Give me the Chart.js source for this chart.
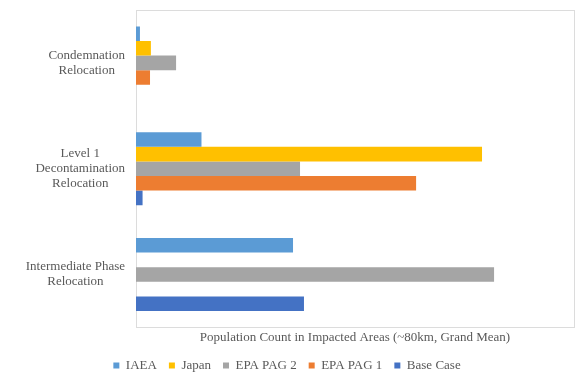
<!DOCTYPE html>
<html>
<head>
<meta charset="utf-8">
<script src="https://cdn.jsdelivr.net/npm/chart.js@4.4.1/dist/chart.umd.min.js"></script>
<style>
  html, body { margin: 0; padding: 0; background: #fff; }
  #wrap { width: 577px; height: 374px; position: relative; }
</style>
</head>
<body>
<div id="wrap"><canvas id="relocationChart"></canvas></div>
<script>
// ---- data ----
const categories = [
  ["Condemnation", "Relocation"],
  ["Level 1", "Decontamination", "Relocation"],
  ["Intermediate Phase", "Relocation"]
];

const seriesNames = ["IAEA", "Japan", "EPA PAG 2", "EPA PAG 1", "Base Case"];
const seriesColors = ["#5B9BD5", "#FFC000", "#A5A5A5", "#ED7D31", "#4472C4"];

// population counts per category (Condemnation, Level 1, Intermediate)
const iaea = [18000, 299000, 717000];
const japan = [68000, 1580000, 0];
const epaPag2 = [183000, 749000, 1635000];
const epaPag1 = [64000, 1279000, 0];
const baseCase = [0, 30000, 767000];

const xMax = 2000000;
const axisTitle = "Population Count in Impacted Areas (~80km, Grand Mean)";

const textColor = "#595959";
const serif = "'Liberation Serif', 'Times New Roman', serif";

// ---- plugins ----
// light frame around the plot area
const plotFrame = {
  id: "plotFrame",
  beforeDraw(chart) {
    const { ctx, chartArea } = chart;
    ctx.save();
    ctx.strokeStyle = "#DCDCDC";
    ctx.lineWidth = 1;
    ctx.strokeRect(
      Math.round(chartArea.left) + 0.5,
      Math.round(chartArea.top) + 0.5,
      Math.round(chartArea.width),
      Math.round(chartArea.height)
    );
    ctx.restore();
  }
};

// multi-line category labels, each block centred and pushed against the axis
const categoryLabels = {
  id: "categoryLabels",
  afterDraw(chart) {
    const { ctx } = chart;
    const yScale = chart.scales.y;
    const right = yScale.right - 11;
    const lineHeight = 15;
    ctx.save();
    ctx.font = "13px " + serif;
    ctx.fillStyle = textColor;
    ctx.textAlign = "center";
    ctx.textBaseline = "middle";
    categories.forEach((lines, i) => {
      const widest = Math.max(...lines.map(l => ctx.measureText(l).width));
      const cx = right - widest / 2;
      const cy = yScale.getPixelForTick(i);
      const startY = cy - (lines.length - 1) * lineHeight / 2;
      lines.forEach((line, k) => {
        ctx.fillText(line, cx, startY + k * lineHeight);
      });
    });
    ctx.restore();
  }
};

// ---- chart ----
const seriesData = [iaea, japan, epaPag2, epaPag1, baseCase];

new Chart(document.getElementById("relocationChart"), {
  type: "bar",
  data: {
    labels: categories,
    datasets: seriesNames.map((name, i) => ({
      label: name,
      data: seriesData[i],
      backgroundColor: seriesColors[i],
      borderWidth: 0,
      barPercentage: 1,
      categoryPercentage: 0.69
    }))
  },
  options: {
    indexAxis: "y",
    responsive: true,
    maintainAspectRatio: false,
    animation: false,
    layout: {
      padding: { top: 10, right: 3, left: 0, bottom: -8 }
    },
    scales: {
      x: {
        min: 0,
        max: xMax,
        grid: { display: false },
        border: { display: false },
        ticks: { display: false },
        title: {
          display: true,
          text: axisTitle,
          color: textColor,
          font: { family: serif, size: 13 },
          padding: { top: -6, bottom: 2 }
        }
      },
      y: {
        grid: { display: false },
        border: { display: false },
        ticks: { display: false },
        afterFit(scale) {
          scale.width = 136;
        }
      }
    },
    plugins: {
      legend: {
        position: "bottom",
        labels: {
          boxWidth: 6,
          boxHeight: 6,
          padding: 12,
          color: textColor,
          font: { family: serif, size: 13 }
        }
      },
      tooltip: { enabled: false }
    }
  },
  plugins: [plotFrame, categoryLabels]
});
</script>
</body>
</html>
